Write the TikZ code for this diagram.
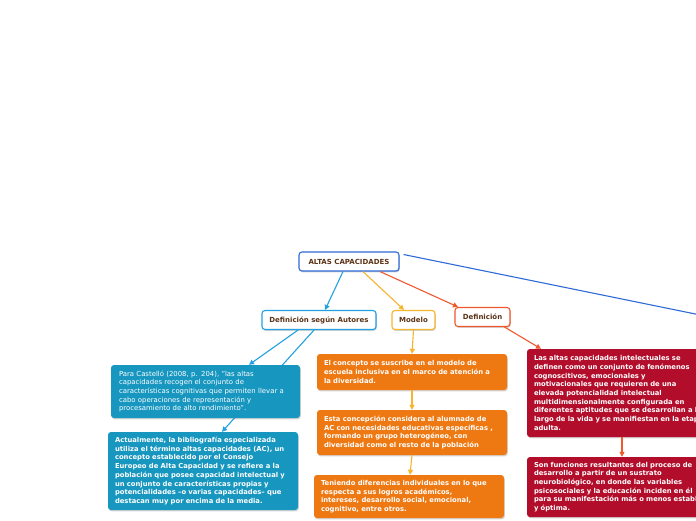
\documentclass[tikz,border=0pt]{standalone}
\usepackage{fontspec}
\setmainfont{DejaVu Sans}
\usetikzlibrary{arrows.meta,shadows}
\definecolor{txtbrown}{HTML}{5C3317}
\definecolor{cblue}{HTML}{2F6BD6}
\definecolor{clight}{HTML}{22A0DF}
\definecolor{cyellow}{HTML}{F7B52E}
\definecolor{cred}{HTML}{F0582E}
\definecolor{fteal}{HTML}{1796BF}
\definecolor{forange}{HTML}{EE7812}
\definecolor{fred}{HTML}{B20E2B}
\tikzset{
  shad/.style={drop shadow={opacity=0.28,shadow xshift=0.8pt,shadow yshift=-1.4pt,fill=black!60}},
  topic/.style={draw,line width=1.1pt,rounded corners=3pt,fill=white,shad,text=txtbrown,
    font=\fontsize{7}{8}\selectfont\bfseries,inner sep=0pt,minimum height=19pt},
  leaf/.style={rounded corners=3pt,shad,text=white,inner xsep=7pt,inner ysep=0pt,align=left,
    font=\fontsize{6.8}{8.7}\selectfont\bfseries},
  conn/.style={line width=1.1pt,-{Triangle[width=5pt,length=5pt]}},
}
\begin{document}
\begin{tikzpicture}[x=1pt,y=-1pt]
\useasboundingbox (0,0) rectangle (696,520);
\clip (0,0) rectangle (696,520);
\fill[white] (0,0) rectangle (696,520);

% nodes
\node[topic,draw=cblue,minimum width=100pt] (altas) at (349,261.5) {ALTAS CAPACIDADES};
\node[topic,draw=clight,minimum width=114pt] (autores) at (319,320) {Definición según Autores};
\node[topic,draw=cyellow,minimum width=43pt] (modelo) at (413.5,320) {Modelo};
\node[topic,draw=cred,minimum width=55pt] (defin) at (482.5,317) {Definición};
\coordinate (far) at (720,319);

% connectors
\draw[cblue,line width=1.1pt] ([yshift=7pt,xshift=4pt]altas.east) -- (far);
\draw[conn,clight] ([xshift=-6pt]altas.south) -- ([xshift=6pt]autores.north);
\draw[conn,cyellow] ([xshift=14pt]altas.south) -- ([xshift=-9.5pt]modelo.north);
\draw[conn,cred] ([xshift=31pt]altas.south) -- ([xshift=-24.5pt]defin.north);

\node[leaf,fill=fteal,text width=176pt,minimum height=78pt] (actual) at (203,471)
{Actualmente, la bibliografía especializada\\
utiliza el término altas capacidades (AC), un\\
concepto establecido por el Consejo\\
Europeo de Alta Capacidad y se refiere a la\\
población que posee capacidad intelectual y\\
un conjunto de características propias y\\
potencialidades –o varias capacidades– que\\
destacan muy por encima de la media.};

\draw[conn,clight] ([xshift=-5pt]autores.south) -- ([xshift=19pt]actual.north);

\node[leaf,fill=fteal,text width=173pt,inner xsep=8pt,minimum height=53pt,font=\fontsize{6.9}{8.7}\selectfont] (castello) at (205.5,391.5)
{Para Castelló (2008, p. 204), "las altas\\
capacidades recogen el conjunto de\\
características cognitivas que permiten llevar a\\
cabo operaciones de representación y\\
procesamiento de alto rendimiento".};

\node[leaf,fill=forange,text width=176pt,minimum height=36pt] (o1) at (412,372)
{El concepto se suscribe en el modelo de\\
escuela inclusiva en el marco de atención a\\
la diversidad.};
\node[leaf,fill=forange,text width=176pt,minimum height=45pt] (o2) at (412,432.5)
{Esta concepción considera al alumnado de\\
AC con necesidades educativas específicas ,\\
formando un grupo heterogéneo, con\\
diversidad como el resto de la población};
\node[leaf,fill=forange,text width=176pt,minimum height=43pt] (o3) at (409,496.5)
{Teniendo diferencias individuales en lo que\\
respecta a sus logros académicos,\\
intereses, desarrollo social, emocional,\\
cognitivo, entre otros.};

\node[leaf,fill=fred,text width=200pt,minimum height=88pt] (r1) at (634,393)
{Las altas capacidades intelectuales se\\
definen como un conjunto de fenómenos\\
cognoscitivos, emocionales y\\
motivacionales que requieren de una\\
elevada potencialidad intelectual\\
multidimensionalmente configurada en\\
diferentes aptitudes que se desarrollan a lo\\
largo de la vida y se manifiestan en la etapa\\
adulta.};
\node[leaf,fill=fred,text width=200pt,minimum height=60pt] (r2) at (634,487)
{Son funciones resultantes del proceso de\\
desarrollo a partir de un sustrato\\
neurobiológico, en donde las variables\\
psicosociales y la educación inciden en él\\
para su manifestación más o menos estable\\
y óptima.};

% lower connectors
\draw[conn,clight] ([xshift=-21pt]autores.south) -- ([xshift=43.5pt]castello.north);
\draw[conn,cyellow] (modelo.south) -- (o1.north);
\draw[conn,cyellow] (o1.south) -- (o2.north);
\draw[conn,cyellow] (o2.south) -- ([xshift=1pt]o3.north);
\draw[conn,cred] ([xshift=22pt]defin.south) -- ([xshift=-93pt]r1.north);
\draw[conn,cred] ([xshift=-12pt]r1.south) -- ([xshift=-12pt]r2.north);
\end{tikzpicture}
\end{document}
